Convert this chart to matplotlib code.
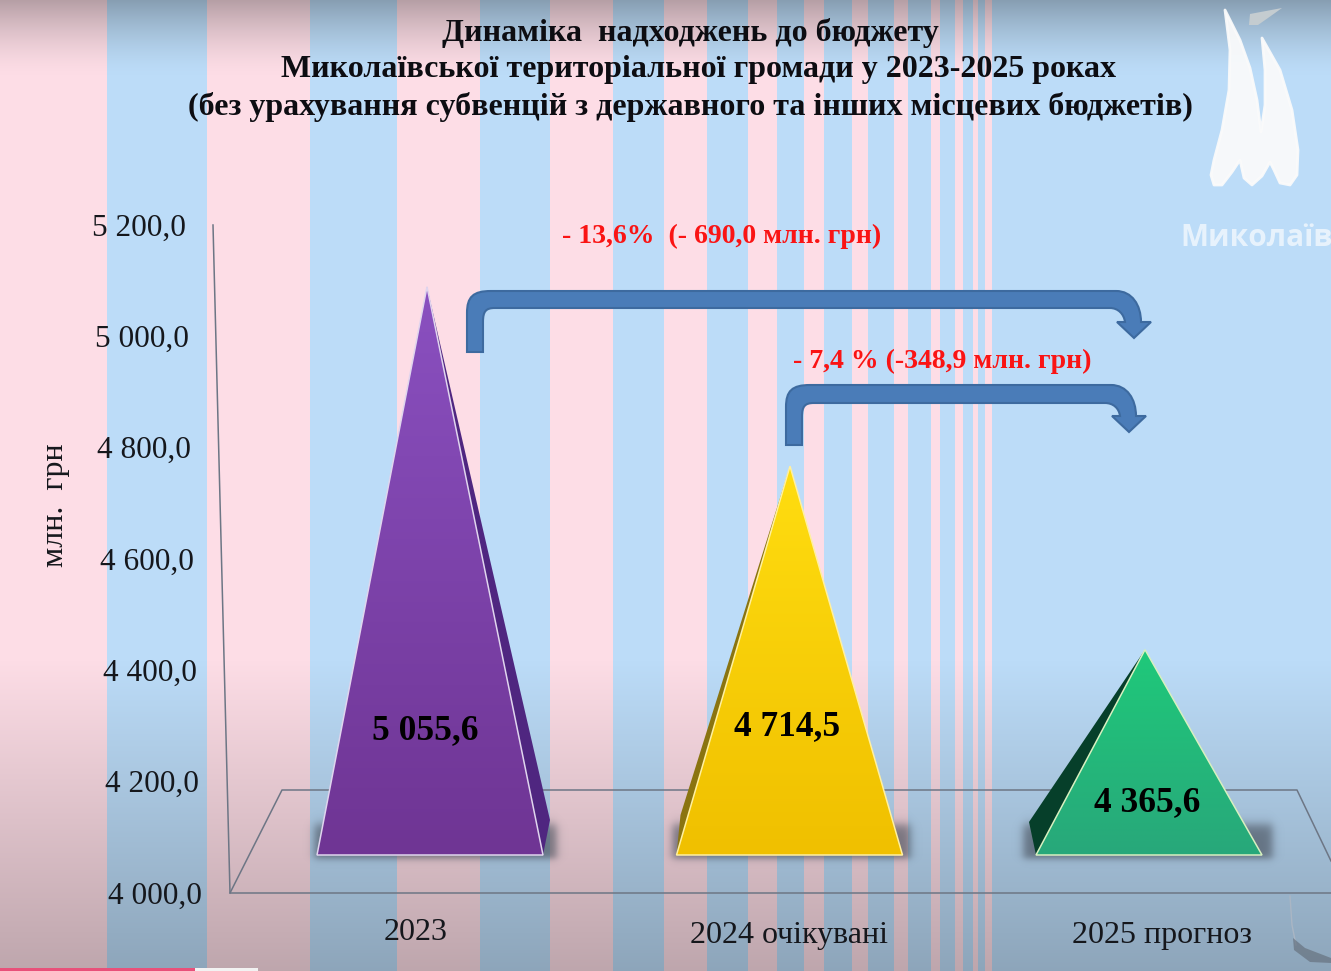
import numpy as np
import matplotlib
matplotlib.use('Agg')
import matplotlib.pyplot as plt
from matplotlib.patches import Polygon, PathPatch, Rectangle
from matplotlib.path import Path

plt.rcParams['font.family'] = ['Liberation Serif', 'DejaVu Serif']

# Data
categories = ['2023', '2024 очікувані', '2025 прогноз']
values = [5055.6, 4714.5, 4365.6]
value_labels = ['5 055,6', '4 714,5', '4 365,6']
y_ticks = [5200, 5000, 4800, 4600, 4400, 4200, 4000]
y_tick_labels = ['5 200,0', '5 000,0', '4 800,0', '4 600,0', '4 400,0', '4 200,0', '4 000,0']
title_lines = ['Динаміка  надходжень до бюджету',
               'Миколаївської територіальної громади у 2023-2025 роках',
               '(без урахування субвенцій з державного та інших місцевих бюджетів)']
change_labels = ['- 13,6%  (- 690,0 млн. грн)', '- 7,4 % (-348,9 млн. грн)']

W, H = 1331, 971
fig = plt.figure(figsize=(W / 100, H / 100), dpi=100)

# pixel axes for the slide decoration
bg = fig.add_axes([0, 0, 1, 1])
bg.axis('off')

# Striped background with dark top and bottom
pink_edges = [(0, 107), (207, 310), (397, 480), (550, 613), (664, 707), (748, 777),
              (804, 824), (852, 868), (894, 908), (931, 940), (955, 963), (973, 978), (985, 992)]
img = np.ones((H, W, 3)) * np.array([188, 220, 248]) / 255
for a, b in pink_edges:
    img[:, a:b] = np.array([253, 221, 230]) / 255
yy = np.arange(H)
shade = 1 - 0.28 * np.clip(1 - yy / 75, 0, 1) ** 1.5
shade *= 1 - 0.0008 * np.clip(yy - 660, 0, None)
img = img * shade[:, None, None]
bg.imshow(img, extent=(0, W, H, 0), aspect='auto', interpolation='bilinear', zorder=0)

# Strip along the bottom edge
bg.add_patch(Rectangle((0, 968), 195, 3, color='#e8507a', lw=0, zorder=1))
bg.add_patch(Rectangle((195, 968), 63, 3, color='#f2f2f2', lw=0, zorder=1))

# Logo
sails = [(1225, 10), (1240, 40), (1250, 68), (1257, 100), (1261, 132), (1265, 105), (1265, 70), (1262, 38),
         (1280, 70), (1292, 110), (1298, 150), (1297, 175), (1290, 185), (1280, 183), (1274, 170), (1270, 162),
         (1262, 176), (1252, 185), (1244, 178), (1240, 160), (1232, 172), (1222, 185), (1214, 185), (1211, 175),
         (1214, 160), (1222, 130), (1229, 90), (1230, 50)]
bg.add_patch(Polygon(sails, closed=True, fc='#fbfbfb', ec='#fbfbfb', lw=2, joinstyle='round', alpha=0.93, zorder=2))
flag = [(1250, 14), (1282, 8), (1268, 18), (1258, 25), (1249, 25)]
bg.add_patch(Polygon(flag, closed=True, fc='#c4ccd0', ec='none', zorder=2))
bg.text(1180, 238, 'Миколаїв', family='Open Sans', fontsize=21.5, fontweight='bold', color='white',
        alpha=0.65, va='center', ha='left', zorder=2)

# Page curl, bottom right
bg.plot([1290, 1292, 1296], [896, 925, 945], color='#aab6c4', lw=1, zorder=2)
bg.add_patch(Polygon([(1293, 938), (1305, 948), (1331, 958), (1331, 963), (1310, 962), (1294, 950)], closed=True,
                     fc='#67727f', ec='none', alpha=0.7, zorder=2))

# Walls and floor
wall_c = '#6d7685'
bg.plot([213, 230, 1331], [225, 893, 893], color=wall_c, lw=1.1, zorder=3)
bg.plot([230, 282, 1297, 1331], [893, 790, 790, 861], color=wall_c, lw=1.1, zorder=3)

# Soft shadows at the foot of the pyramids
gx, gy = np.meshgrid(np.arange(W), np.arange(H))
shadow = np.zeros((H, W))
for x0, x1 in [(314, 556), (672, 910), (1023, 1272)]:
    sx = 1 / (1 + np.exp((x0 - gx) / 2.5)) * 1 / (1 + np.exp((gx - x1) / 2.5))
    sy = 1 / (1 + np.exp((824 - gy) / 3)) * 1 / (1 + np.exp((gy - 858) / 2))
    shadow = np.maximum(shadow, sx * sy)
rgba = np.zeros((H, W, 4))
rgba[..., :3] = np.array([70, 78, 90]) / 255
rgba[..., 3] = shadow * 0.65
bg.imshow(rgba, extent=(0, W, H, 0), aspect='auto', zorder=3)
bg.set_xlim(0, W)
bg.set_ylim(H, 0)

# Axis labels
for v, lab in zip(y_ticks, y_tick_labels):
    y_px = 896 - (v - 4000) * 0.5567
    x_px = 202 - (v - 4000) * 0.0133
    bg.text(x_px, y_px, lab, fontsize=22.5, ha='right', va='center', color='#15171c', zorder=5)
bg.text(56, 505, 'млн.  грн', fontsize=23, rotation=90, ha='center', va='center', color='#15171c', zorder=5)

for x_px, y_px, lab in zip([416, 789, 1162], [933, 935, 935], categories):
    bg.text(x_px, y_px, lab, fontsize=23, ha='center', va='center', color='#15171c', zorder=5)

# Title
for x_px, y_px, line in zip([690.5, 698.5, 690.5], [33, 69, 107], title_lines):
    bg.text(x_px, y_px, line, fontsize=23, fontweight='bold', ha='center', va='center', color='#0d0d12', zorder=5)

bg.text(722, 236, change_labels[0], fontsize=20, fontweight='bold', ha='center', va='center', color='#fa1414', zorder=5)
bg.text(942, 361, change_labels[1], fontsize=20, fontweight='bold', ha='center', va='center', color='#fa1414', zorder=5)


def bent_arrow(x0, x1, bottom, top, band_bottom, tip_x, tip_y, wing_y, wing_half):
    # stem up, rounded corner, band to the right, curve down into an arrow head
    M, L, C = Path.MOVETO, Path.LINETO, Path.CURVE4
    verts = [(x0, bottom), (x0, top + 22), (x0, top + 6), (x0 + 6, top), (x0 + 24, top),
             (tip_x - 18, top), (tip_x - 2, top), (tip_x + 7, wing_y - 17), (tip_x + 7, wing_y),
             (tip_x + wing_half, wing_y), (tip_x, tip_y), (tip_x - wing_half, wing_y),
             (tip_x - 9, wing_y), (tip_x - 10, wing_y - 8), (tip_x - 16, band_bottom), (tip_x - 24, band_bottom),
             (x1 + 12, band_bottom), (x1 + 3, band_bottom), (x1, band_bottom + 3), (x1, band_bottom + 14),
             (x1, bottom), (x0, bottom)]
    codes = [M, L, C, C, C, L, C, C, C, L, L, L, L, C, C, C, L, C, C, C, L, Path.CLOSEPOLY]
    bg.add_patch(PathPatch(Path(verts, codes), fc='#4a7cb8', ec='#3d6a9f', lw=1.5, zorder=4))


bent_arrow(467, 483, 352, 291, 308, 1134, 338, 322, 17)
bent_arrow(786, 802, 445, 385, 403, 1129, 432, 416, 17)

# Chart axes, same size as the figure, data scale set for the pyramids
px_per_unit = 0.526
zero_px = 842
centers_px = [430, 789.5, 1149]
step_px = 359.5
ax = fig.add_axes([0, 0, 1, 1], zorder=2)
ax.patch.set_alpha(0)
ax.axis('off')
xlim = (-centers_px[0] / step_px, (W - centers_px[0]) / step_px)
ylim = (4000 - (H - zero_px) / px_per_unit, 4000 + zero_px / px_per_unit)
base_v = 4000 - 13 / px_per_unit  # front edge of the base sits below the 4000 plane

half = 113 / step_px
x_pos = np.arange(len(values))
apex_shift = np.array([-3, 0.5, -4]) / step_px
side_corner = [1, -1, -1]
side_dx = np.array([7, 4, -7]) / step_px
side_dy = np.array([35, 40, 33]) / px_per_unit
top_colors = ['#8a50c0', '#ffdd10', '#1fc97a']
bot_colors = ['#6f3594', '#f0c000', '#28a87a']
side_colors = ['#4f2680', '#8a7410', '#063f2a']
edge_colors = ['#e0d5ee', '#fff0a0', '#d8f0c0']

for i, v in enumerate(values):
    apex = (x_pos[i] + apex_shift[i], v)
    left = (x_pos[i] - half, base_v)
    right = (x_pos[i] + half, base_v)
    # visible side face
    corner = right if side_corner[i] > 0 else left
    side = [corner, (corner[0] + side_dx[i], base_v + side_dy[i]), apex]
    ax.add_patch(Polygon(side, closed=True, fc=side_colors[i], ec='none', zorder=2))
    # front face with vertical gradient
    front = Polygon([left, apex, right], closed=True, fc='none', ec='none', transform=ax.transData)
    ax.add_patch(front)
    c0 = np.array(matplotlib.colors.to_rgb(top_colors[i]))
    c1 = np.array(matplotlib.colors.to_rgb(bot_colors[i]))
    ramp = np.linspace(0, 1, 64)[:, None, None]
    grad = c0 * (1 - ramp) + c1 * ramp
    im = ax.imshow(grad, extent=(left[0], right[0], base_v, v), aspect='auto', zorder=3, interpolation='bilinear')
    im.set_clip_path(front)
    ax.add_patch(Polygon([left, apex, right], closed=True, fc='none', ec=edge_colors[i], lw=1.1, zorder=4))

ax.set_xlim(xlim)
ax.set_ylim(ylim)

# Value labels
label_px = [731, 727, 803]
label_dx = np.array([-5, -2, -2]) / step_px
for i, lab in enumerate(value_labels):
    ax.text(x_pos[i] + label_dx[i], 4000 + (zero_px - label_px[i]) / px_per_unit, lab, fontsize=25.5,
            fontweight='bold', ha='center', va='center', color='black', zorder=6)

fig.savefig('out.png', dpi=100)
